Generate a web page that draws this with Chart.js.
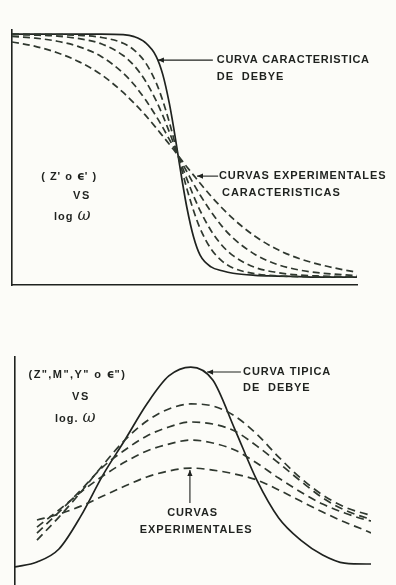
<!DOCTYPE html>
<html>
<head>
<meta charset="utf-8">
<script src="https://cdn.jsdelivr.net/npm/chart.js@4/dist/chart.umd.min.js"></script>
<style>
  html, body { margin: 0; padding: 0; background: #fcfcf8; }
  #wrap { position: relative; width: 396px; height: 585px; overflow: hidden; }
  canvas { position: absolute; left: 0; }
  #real { top: 0; }
  #loss { top: 300px; }
</style>
</head>
<body>
<div id="wrap">
  <canvas id="real" width="396" height="300" style="width:396px;height:300px"></canvas>
  <canvas id="loss" width="396" height="285" style="width:396px;height:285px"></canvas>
</div>
<script>
// ---- Real part (Z' or e') versus log w ----
const logOmegaReal = [0, 0.53, 1.03, 1.53, 2.03, 2.53, 2.78, 3.03, 3.28, 3.43, 3.58, 3.68, 3.78,
                      3.88, 3.98, 4.13, 4.28, 4.53, 4.78, 5.03, 5.53, 6.03, 6.53, 7.03, 7.53, 7.85];
const debyeReal = [98.4, 98.4, 98.4, 98.4, 98.4, 98.2, 97.4, 95.1, 89.7, 82.6, 71.2, 61.5, 50.75,
                   40.0, 30.3, 18.9, 11.7, 7.1, 5.6, 4.6, 3.8, 3.5, 3.3, 3.1, 3.1, 3.1];
const expReal1 = [98.4, 98.3, 98.2, 97.9, 97.1, 94.8, 92.1, 87.4, 79.3, 72.3, 63.8, 57.4, 50.75,
                  44.1, 37.7, 29.2, 22.2, 14.1, 9.4, 6.7, 4.4, 3.6, 3.3, 3.2, 3.1, 3.1];
const expReal2 = [98.2, 98.0, 97.6, 96.6, 94.6, 90.0, 86.0, 80.2, 72.3, 66.5, 60.0, 55.4, 50.75,
                  46.1, 41.5, 35.0, 29.2, 21.3, 15.5, 11.5, 6.9, 4.9, 3.9, 3.5, 3.3, 3.2];
const expReal3 = [97.5, 96.8, 95.6, 93.4, 89.6, 83.1, 78.5, 72.8, 66.2, 61.8, 57.1, 54.0, 50.75,
                  47.5, 44.4, 39.7, 35.3, 28.7, 23.0, 18.4, 12.0, 8.1, 5.9, 4.7, 4.0, 3.7];
const expReal4 = [95.3, 93.6, 91.1, 87.5, 82.5, 75.5, 71.3, 66.7, 61.6, 58.4, 55.2, 53.0, 50.75,
                  48.5, 46.3, 43.1, 39.9, 34.8, 30.2, 26.0, 19.1, 14.0, 10.4, 7.9, 6.0, 5.0];

// ---- Loss part (Z'', M'', Y'' or e'') versus log w ----
const logOmegaLoss = [0, 0.5, 1.0, 1.5, 2.0, 2.5, 3.0, 3.5, 4.0, 4.5, 5.0, 5.5, 6.0, 6.5, 7.0, 7.5, 8.0, 8.1];
const debyeLoss = [7.9, 10.1, 15.8, 30.3, 48.2, 63.6, 79.4, 91.7, 95.6, 89.9, 68.4, 46.1, 29.4, 19.7, 13.2, 9.6, 9.2, 9.2];
const expLoss1 = [null, 19.7, 29.8, 40.8, 52.6, 63.6, 71.9, 77.2, 79.4, 78.5, 74.1, 66.2, 56.1, 46.9, 39.5, 34.2, 31.1, 30.7];
const expLoss2 = [null, 22.8, 32.0, 41.7, 51.8, 59.2, 65.4, 69.3, 71.5, 70.6, 67.5, 61.0, 53.5, 45.6, 38.2, 32.9, 29.4, 28.9];
const expLoss3 = [null, 25.4, 32.9, 40.8, 47.8, 53.9, 58.8, 61.8, 63.6, 62.3, 59.2, 53.5, 46.9, 40.8, 35.5, 31.6, 28.5, 28.1];
const expLoss4 = [null, 28.5, 31.1, 34.6, 39.0, 43.4, 47.4, 50.0, 51.3, 50.4, 48.7, 46.1, 41.7, 36.8, 32.0, 27.6, 23.7, 22.8];

const INK = '#1f221f';
const DASH_INK = '#2f382f';
const CAPS = 'bold 11px "Liberation Sans", Arial, sans-serif';
const EPS = 'bold 12px "DejaVu Sans", sans-serif';
const OMEGA = 'italic 16px "DejaVu Serif", serif';
const SP = 0.9;

const pts = (xs, ys) => xs.map((x, i) => ({ x, y: ys[i] }));

function solid(xs, ys) {
  return { data: pts(xs, ys), borderColor: INK, borderWidth: 1.7, pointRadius: 0,
           fill: false, cubicInterpolationMode: 'monotone', spanGaps: false };
}
function dashed(xs, ys, dash) {
  return { data: pts(xs, ys), borderColor: DASH_INK, borderWidth: 1.7, borderDash: dash,
           pointRadius: 0, fill: false, cubicInterpolationMode: 'monotone', spanGaps: false };
}

// Draws the callout texts and arrows, positioned in data units of each chart.
const annotate = {
  id: 'annotate',
  afterDatasetsDraw(chart, args, opts) {
    const { ctx } = chart;
    const sx = chart.scales.x, sy = chart.scales.y;
    ctx.save();
    ctx.fillStyle = INK;
    ctx.strokeStyle = INK;
    ctx.lineWidth = 1.1;
    (opts.arrows || []).forEach(a => {
      const x0 = sx.getPixelForValue(a.from[0]), y0 = sy.getPixelForValue(a.from[1]);
      const x1 = sx.getPixelForValue(a.to[0]), y1 = sy.getPixelForValue(a.to[1]);
      ctx.beginPath(); ctx.moveTo(x0, y0); ctx.lineTo(x1, y1); ctx.stroke();
      const ang = Math.atan2(y1 - y0, x1 - x0), L = 6, W = 2.6;
      ctx.beginPath();
      ctx.moveTo(x1, y1);
      ctx.lineTo(x1 - L * Math.cos(ang) + W * Math.sin(ang), y1 - L * Math.sin(ang) - W * Math.cos(ang));
      ctx.lineTo(x1 - L * Math.cos(ang) - W * Math.sin(ang), y1 - L * Math.sin(ang) + W * Math.cos(ang));
      ctx.closePath(); ctx.fill();
    });
    ctx.textBaseline = 'middle';
    ctx.textAlign = 'left';
    (opts.labels || []).forEach(l => {
      const parts = l.parts;
      let total = 0;
      const widths = parts.map(p => {
        ctx.font = p[1];
        ctx.letterSpacing = (p[2] || 0) + 'px';
        const w = ctx.measureText(p[0]).width;
        total += w;
        return w;
      });
      let px = sx.getPixelForValue(l.x);
      const py = sy.getPixelForValue(l.y);
      if (l.align === 'center') px -= total / 2;
      parts.forEach((p, i) => {
        ctx.font = p[1];
        ctx.letterSpacing = (p[2] || 0) + 'px';
        ctx.fillText(p[0], px, py + (p[3] || 0));
        px += widths[i];
      });
    });
    ctx.restore();
  }
};
Chart.register(annotate);

function axes(xmax, showX) {
  const common = {
    type: 'linear', display: true,
    grid: { display: false, drawTicks: false },
    ticks: { display: false },
    border: { display: true, color: INK, width: 1.6 }
  };
  return {
    x: Object.assign({}, common, { min: 0, max: xmax, border: { display: showX, color: INK, width: 1.6 } }),
    y: Object.assign({}, common, { min: 0, max: 100 })
  };
}

const baseOptions = (xmax, showX, padding, annot) => ({
  responsive: false,
  animation: false,
  events: [],
  layout: { padding },
  scales: axes(xmax, showX),
  plugins: { legend: { display: false }, tooltip: { enabled: false }, annotate: annot }
});

new Chart(document.getElementById('real'), {
  type: 'line',
  data: {
    datasets: [
      dashed(logOmegaReal, expReal4, [7, 4]),
      dashed(logOmegaReal, expReal3, [7, 4]),
      dashed(logOmegaReal, expReal2, [7, 4]),
      dashed(logOmegaReal, expReal1, [7, 4]),
      solid(logOmegaReal, debyeReal)
    ]
  },
  options: baseOptions(7.85, true, { left: 12, top: 30, right: 39, bottom: 15 }, {
    arrows: [
      { from: [4.57, 88.2], to: [3.32, 88.2] },
      { from: [4.69, 42.7], to: [4.21, 42.7] }
    ],
    labels: [
      { x: 4.66, y: 88.2, parts: [['CURVA CARACTERISTICA', CAPS, 0.7]] },
      { x: 4.66, y: 81.6, parts: [['DE  DEBYE', CAPS, SP]] },
      { x: 4.71, y: 42.7, parts: [['CURVAS EXPERIMENTALES', CAPS, SP]] },
      { x: 4.78, y: 36.1, parts: [['CARACTERISTICAS', CAPS, SP]] },
      { x: 1.30, y: 42.4, align: 'center',
        parts: [["( Z' o ", CAPS, 1], ['\u03F5', EPS, 0], ["' )", CAPS, 1]] },
      { x: 1.59, y: 34.9, align: 'center', parts: [['VS', CAPS, 1.5]] },
      { x: 1.37, y: 26.7, align: 'center', parts: [['log ', CAPS, 1], ['\u03C9', OMEGA, 0, -1]] }
    ]
  })
});

new Chart(document.getElementById('loss'), {
  type: 'line',
  data: {
    datasets: [
      dashed(logOmegaLoss, expLoss4, [8, 5]),
      dashed(logOmegaLoss, expLoss3, [8, 5]),
      dashed(logOmegaLoss, expLoss2, [8, 5]),
      dashed(logOmegaLoss, expLoss1, [8, 5]),
      solid(logOmegaLoss, debyeLoss)
    ]
  },
  options: baseOptions(8.1, false, { left: 15, top: 57, right: 25, bottom: 0 }, {
    arrows: [
      { from: [5.14, 93.4], to: [4.37, 93.4] },
      { from: [3.98, 36.0], to: [3.98, 50.4] }
    ],
    labels: [
      { x: 1.42, y: 92.1, align: 'center',
        parts: [['(Z",M",Y" o ', CAPS, 1.4], ['\u03F5', EPS, 0], ['")', CAPS, 1.4]] },
      { x: 1.50, y: 82.5, align: 'center', parts: [['VS', CAPS, 1.5]] },
      { x: 1.37, y: 72.8, align: 'center', parts: [['log. ', CAPS, 1], ['\u03C9', OMEGA, 0, -1]] },
      { x: 5.19, y: 93.4, parts: [['CURVA TIPICA', CAPS, SP]] },
      { x: 5.19, y: 86.4, parts: [['DE  DEBYE', CAPS, SP]] },
      { x: 4.04, y: 31.6, align: 'center', parts: [['CURVAS', CAPS, SP]] },
      { x: 4.12, y: 24.1, align: 'center', parts: [['EXPERIMENTALES', CAPS, SP]] }
    ]
  })
});
</script>
</body>
</html>
